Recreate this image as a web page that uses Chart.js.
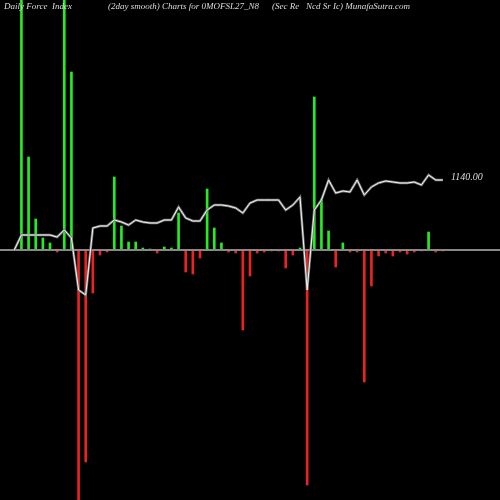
<!DOCTYPE html>
<html>
<head>
<script src="https://cdn.jsdelivr.net/npm/chart.js@4"></script>
<style>
body{margin:0;background:#000;}
#wrap{position:relative;width:500px;height:500px;}
.t{position:absolute;top:1px;font:italic 9px "Liberation Serif",serif;color:#ddd;white-space:pre;}
</style>
</head>
<body>
<div id="wrap">
<canvas id="myChart" width="500" height="500"></canvas>
<div class="t" style="left:4px">Daily Force  Index</div>
<div class="t" style="left:108px">(2day smooth) Charts for 0MOFSL27_N8</div>
<div class="t" style="left:272px">(Sec Re   Ncd Sr Ic) MunafaSutra.com</div>
<div class="t" style="left:451px;top:171px;font-size:10px">1140.00</div>
</div>
<script>
// force index bars, index 2..63
var force=[null,250,93,31,12,7,-2,250,178,-250,-212,-43,-5,-2,73,24,8,8,2,1,-3,3,2,37,-22,-24,-8,61,22,7,-2,-3,-80,-26,-3,-2,-1,-1,-18,-5,2,-235,153,51,19,-17,7,-2,-2,-132,-36,-6,-3,-6,-2,-4,-2,-1,18,-2,-1,null]
// smoothed price line
var price=[0,15,15,15,15,15,13,20,12,-40,-45,22,24,24,30,28,25,30,28,27,27,30,30,43,32,29,29,40,45,45,44,42,37,47,50,50,50,50,40,45,53,-40,40,50,70,57,59,58,70,55,63,67,69,68,67,67,68,65,75,70,70]

var N=71
var labels=[];
for(var i=0;i<N;i++) labels.push(i)
var pad=function(a){return [null,null].concat(a).concat(new Array(N-2-a.length).fill(null))}
var bars=pad(force)
var line=pad(price)
var zero=new Array(N).fill(0)

new Chart(document.getElementById('myChart'),{
  type:'bar',
  data:{labels:labels,datasets:[
    {type:'line',data:line,borderColor:'#f4f4f4',borderWidth:1,pointRadius:0,tension:0,order:0},
    {type:'line',data:line,borderColor:'#777',borderWidth:2.5,pointRadius:0,tension:0,order:1},
    {type:'line',data:zero,borderColor:'#888',borderWidth:2,pointRadius:0,order:2},
    {data:bars,barThickness:2,order:3,
     backgroundColor:bars.map(function(v){return v>=0?'#22ee22':'#ee2222'})}
  ]},
  options:{
    responsive:false,animation:false,
    layout:{padding:0},
    plugins:{legend:{display:false},tooltip:{enabled:false}},
    scales:{
      x:{display:false,offset:false},
      y:{display:false,min:-250,max:250}
    }
  }
})
</script>
</body>
</html>
